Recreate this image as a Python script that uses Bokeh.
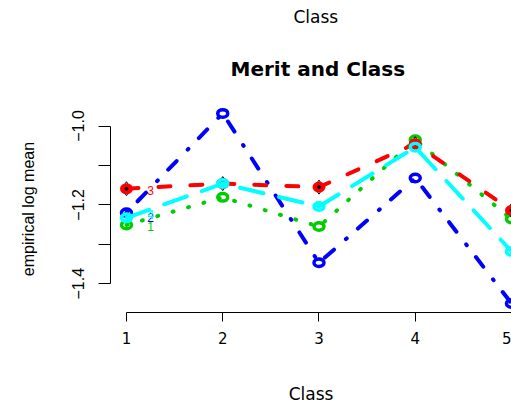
from bokeh.plotting import figure
from bokeh.models import Range1d, FixedTicker, CustomJSTickFormatter, Title
from bokeh.core.properties import value
from bokeh.embed import file_html
from bokeh.resources import INLINE

# Empirical log means by class, one trace per merit level
classes = [1, 2, 3, 4, 5]
merit_1 = [-1.251, -1.181, -1.255, -1.035, -1.236]
merit_2 = [-1.220, -0.968, -1.347, -1.132, -1.450]
merit_3 = [-1.159, -1.146, -1.155, -1.045, -1.214]
merit_4 = [-1.233, -1.146, -1.204, -1.054, -1.318]

# Trace labels written beside the first class
trace_labels = ["1", "2", "3", "4"]
trace_label_x = [1.25, 1.25, 1.25, 1.25]
trace_label_y = [-1.254, -1.232, -1.163, -1.224]

y_major = [-1.4, -1.2, -1.0]
y_minor = [-1.3, -1.1]

SANS = "Liberation Sans"
WIDE = "DejaVu Sans"

p = figure(width=511, height=406, title=None,
           x_range=Range1d(0.834, 5.0), y_range=Range1d(-1.473, -0.948),
           output_backend="svg", toolbar_location=None,
           min_border_left=110, min_border_right=0,
           min_border_top=105, min_border_bottom=94)
p.outline_line_color = None
p.grid.visible = False
p.background_fill_color = "white"
p.border_fill_color = "white"

# Titles (closest to the frame first)
main_title = Title(text="Merit and Class", align="left", offset=120,
                   text_font=WIDE, text_font_size="20px", text_font_style="bold",
                   text_color="black", standoff=50)
p.add_layout(main_title, "above")
top_title = Title(text="Class", align="left", offset=183,
                  text_font=WIDE, text_font_size="17px", text_font_style="normal",
                  text_color="black", standoff=6)
p.add_layout(top_title, "above")

# x axis
xa = p.xaxis[0]
xa.ticker = FixedTicker(ticks=classes)
xa.bounds = (1, 5)
xa.axis_label = "Class"
xa.axis_label_text_font = WIDE
xa.axis_label_text_font_size = "17px"
xa.axis_label_text_font_style = "normal"
xa.axis_label_text_color = "black"
xa.axis_label_standoff = 37
xa.major_label_text_font = WIDE
xa.major_label_text_font_size = "15px"
xa.major_label_text_color = "black"
xa.major_label_standoff = 10
xa.major_tick_in = 0
xa.major_tick_out = 9
xa.minor_tick_line_color = None
xa.axis_line_color = "black"
xa.major_tick_line_color = "black"

# y axis
ya = p.yaxis[0]
ya.ticker = FixedTicker(ticks=y_major, minor_ticks=y_minor)
ya.bounds = (-1.4, -1.0)
ya.formatter = CustomJSTickFormatter(code="return tick.toFixed(1).replace('-', '\u2212');")
ya.major_label_orientation = "vertical"
ya.axis_label = "empirical log mean"
ya.axis_label_text_font = SANS
ya.axis_label_text_font_size = "16px"
ya.axis_label_text_font_style = "normal"
ya.axis_label_text_color = "black"
ya.axis_label_standoff = 33
ya.major_label_text_font = SANS
ya.major_label_text_font_size = "16px"
ya.major_label_text_color = "black"
ya.major_label_standoff = 14
ya.major_tick_in = 0
ya.major_tick_out = 12
ya.minor_tick_in = 0
ya.minor_tick_out = 12
ya.minor_tick_line_color = "black"
ya.axis_line_color = "black"
ya.major_tick_line_color = "black"

LW = 4

# merit 1: green, dotted
p.line(classes, merit_1, line_color="#00cd00", line_width=LW, line_dash="1 15", line_cap="round")
p.ellipse(classes, merit_1, width=10, height=7.5, width_units="screen", height_units="screen",
          fill_color=None, line_color="#00cd00", line_width=3.5)

# merit 2: blue, dot-dash
p.line(classes, merit_2, line_color="#0000ff", line_width=LW, line_dash="1 15 12 16", line_cap="round")
p.ellipse(classes, merit_2, width=10, height=7.5, width_units="screen", height_units="screen",
          fill_color=None, line_color="#0000ff", line_width=3.5)

# merit 3: red, dashed, filled marker
p.line(classes, merit_3, line_color="#ff0000", line_width=LW, line_dash="12 20", line_cap="round")
p.scatter(classes, merit_3, marker="diamond", size=14, fill_color=None,
          line_color="black", line_width=1)
p.ellipse(classes, merit_3, width=11, height=9, width_units="screen", height_units="screen",
          fill_color="#ff0000", line_color="#ff0000", line_width=2)
p.scatter(classes, merit_3, marker="circle", size=3, fill_color="black", line_color="black")

# merit 4: cyan, long dash
p.line(classes, merit_4, line_color="#00ffff", line_width=LW, line_dash="24 16", line_cap="round")
p.ellipse(classes, merit_4, width=10, height=7.5, width_units="screen", height_units="screen",
          fill_color=None, line_color="#00ffff", line_width=3.5)

p.text(trace_label_x, trace_label_y, text=trace_labels,
       text_color=["#00cd00", "#0000ff", "#ff0000", "#00ffff"],
       text_font=value(SANS), text_font_size="12px",
       text_align="center", text_baseline="middle")

open("out.html", "w").write(file_html(p, INLINE))
